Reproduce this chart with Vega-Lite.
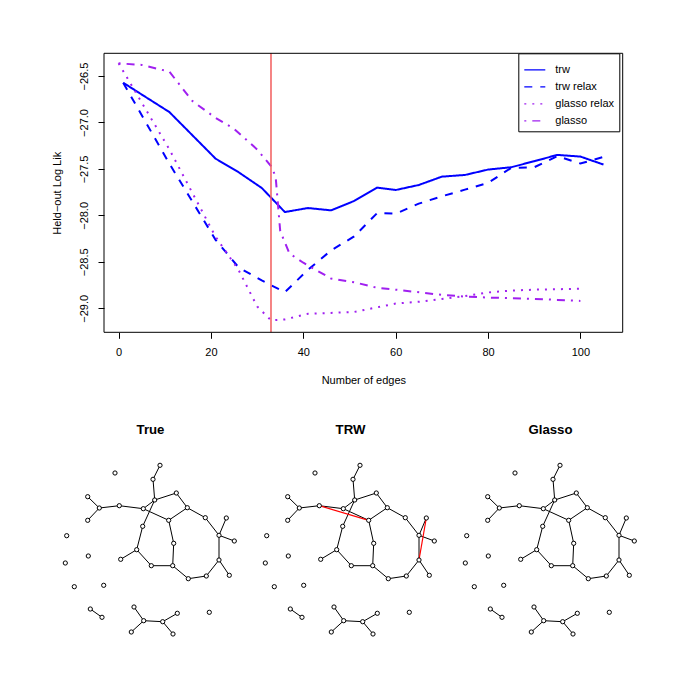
{
  "$schema": "https://vega.github.io/schema/vega-lite/v6.json",
  "width": 700,
  "height": 700,
  "autosize": "none",
  "padding": 0,
  "background": "white",
  "config": {
    "font": "Liberation Sans",
    "view": {"stroke": null},
    "axis": {"grid": false, "labelColor": "black", "titleColor": "black", "tickColor": "black", "labelFontSize": 11, "titleFontSize": 11, "titleFontWeight": "normal"}
  },
  "datasets": {
    "lines": [
      {"method": "trw", "edges": 1, "ll": -26.572},
      {"method": "trw", "edges": 11, "ll": -26.888},
      {"method": "trw", "edges": 21, "ll": -27.389},
      {"method": "trw", "edges": 26, "ll": -27.536},
      {"method": "trw", "edges": 31, "ll": -27.705},
      {"method": "trw", "edges": 36, "ll": -27.964},
      {"method": "trw", "edges": 41, "ll": -27.921},
      {"method": "trw", "edges": 46, "ll": -27.946},
      {"method": "trw", "edges": 51, "ll": -27.845},
      {"method": "trw", "edges": 56, "ll": -27.701},
      {"method": "trw", "edges": 60, "ll": -27.727},
      {"method": "trw", "edges": 65, "ll": -27.673},
      {"method": "trw", "edges": 70, "ll": -27.583},
      {"method": "trw", "edges": 75, "ll": -27.565},
      {"method": "trw", "edges": 80, "ll": -27.507},
      {"method": "trw", "edges": 85, "ll": -27.482},
      {"method": "trw", "edges": 90, "ll": -27.417},
      {"method": "trw", "edges": 95, "ll": -27.349},
      {"method": "trw", "edges": 100, "ll": -27.367},
      {"method": "trw", "edges": 105, "ll": -27.453},
      {"method": "trw relax", "edges": 1, "ll": -26.572},
      {"method": "trw relax", "edges": 11, "ll": -27.443},
      {"method": "trw relax", "edges": 21, "ll": -28.263},
      {"method": "trw relax", "edges": 26, "ll": -28.561},
      {"method": "trw relax", "edges": 31, "ll": -28.701},
      {"method": "trw relax", "edges": 36, "ll": -28.827},
      {"method": "trw relax", "edges": 41, "ll": -28.586},
      {"method": "trw relax", "edges": 46, "ll": -28.378},
      {"method": "trw relax", "edges": 51, "ll": -28.227},
      {"method": "trw relax", "edges": 56, "ll": -27.975},
      {"method": "trw relax", "edges": 60, "ll": -27.982},
      {"method": "trw relax", "edges": 65, "ll": -27.874},
      {"method": "trw relax", "edges": 70, "ll": -27.795},
      {"method": "trw relax", "edges": 75, "ll": -27.723},
      {"method": "trw relax", "edges": 80, "ll": -27.651},
      {"method": "trw relax", "edges": 85, "ll": -27.489},
      {"method": "trw relax", "edges": 90, "ll": -27.482},
      {"method": "trw relax", "edges": 95, "ll": -27.363},
      {"method": "trw relax", "edges": 100, "ll": -27.442},
      {"method": "trw relax", "edges": 105, "ll": -27.37},
      {"method": "glasso relax", "edges": 0, "ll": -26.363},
      {"method": "glasso relax", "edges": 11, "ll": -27.29},
      {"method": "glasso relax", "edges": 21, "ll": -28.23},
      {"method": "glasso relax", "edges": 26, "ll": -28.59},
      {"method": "glasso relax", "edges": 30, "ll": -28.98},
      {"method": "glasso relax", "edges": 33, "ll": -29.13},
      {"method": "glasso relax", "edges": 36, "ll": -29.12},
      {"method": "glasso relax", "edges": 41, "ll": -29.06},
      {"method": "glasso relax", "edges": 46, "ll": -29.05},
      {"method": "glasso relax", "edges": 51, "ll": -29.04},
      {"method": "glasso relax", "edges": 56, "ll": -28.99},
      {"method": "glasso relax", "edges": 60, "ll": -28.95},
      {"method": "glasso relax", "edges": 65, "ll": -28.93},
      {"method": "glasso relax", "edges": 70, "ll": -28.9},
      {"method": "glasso relax", "edges": 75, "ll": -28.87},
      {"method": "glasso relax", "edges": 80, "ll": -28.83},
      {"method": "glasso relax", "edges": 85, "ll": -28.81},
      {"method": "glasso relax", "edges": 90, "ll": -28.8},
      {"method": "glasso relax", "edges": 95, "ll": -28.795},
      {"method": "glasso relax", "edges": 100, "ll": -28.79},
      {"method": "glasso", "edges": 0, "ll": -26.363},
      {"method": "glasso", "edges": 5, "ll": -26.38},
      {"method": "glasso", "edges": 11, "ll": -26.453},
      {"method": "glasso", "edges": 16, "ll": -26.77},
      {"method": "glasso", "edges": 21, "ll": -26.95},
      {"method": "glasso", "edges": 25, "ll": -27.068},
      {"method": "glasso", "edges": 30, "ll": -27.29},
      {"method": "glasso", "edges": 33, "ll": -27.47},
      {"method": "glasso", "edges": 34, "ll": -27.58},
      {"method": "glasso", "edges": 35, "ll": -28.17},
      {"method": "glasso", "edges": 37, "ll": -28.41},
      {"method": "glasso", "edges": 40, "ll": -28.51},
      {"method": "glasso", "edges": 46, "ll": -28.68},
      {"method": "glasso", "edges": 51, "ll": -28.72},
      {"method": "glasso", "edges": 56, "ll": -28.78},
      {"method": "glasso", "edges": 60, "ll": -28.8},
      {"method": "glasso", "edges": 70, "ll": -28.856},
      {"method": "glasso", "edges": 75, "ll": -28.874},
      {"method": "glasso", "edges": 80, "ll": -28.885},
      {"method": "glasso", "edges": 85, "ll": -28.892},
      {"method": "glasso", "edges": 90, "ll": -28.899},
      {"method": "glasso", "edges": 95, "ll": -28.91},
      {"method": "glasso", "edges": 100, "ll": -28.921}
    ],
    "nodes": [
      {"id": 1, "gx": 65, "gy": 23},
      {"id": 2, "gx": 110, "gy": 15.3},
      {"id": 3, "gx": 103, "gy": 29.3},
      {"id": 4, "gx": 104.7, "gy": 50},
      {"id": 5, "gx": 126.3, "gy": 43},
      {"id": 6, "gx": 93.3, "gy": 58.7},
      {"id": 7, "gx": 69.3, "gy": 55.7},
      {"id": 8, "gx": 49.3, "gy": 58},
      {"id": 9, "gx": 37.7, "gy": 46.7},
      {"id": 10, "gx": 37.7, "gy": 70.3},
      {"id": 11, "gx": 118.7, "gy": 70.3},
      {"id": 12, "gx": 137.3, "gy": 57.7},
      {"id": 13, "gx": 155.3, "gy": 67.7},
      {"id": 14, "gx": 169, "gy": 85.3},
      {"id": 15, "gx": 176.3, "gy": 68},
      {"id": 16, "gx": 184.3, "gy": 91},
      {"id": 17, "gx": 169, "gy": 110},
      {"id": 18, "gx": 179.3, "gy": 125.3},
      {"id": 19, "gx": 156.3, "gy": 126},
      {"id": 20, "gx": 138.3, "gy": 128.7},
      {"id": 21, "gx": 122.7, "gy": 115.7},
      {"id": 22, "gx": 123.7, "gy": 93.3},
      {"id": 23, "gx": 101.3, "gy": 115.7},
      {"id": 24, "gx": 86.7, "gy": 99.7},
      {"id": 25, "gx": 70.7, "gy": 109.3},
      {"id": 26, "gx": 92.7, "gy": 76.3},
      {"id": 27, "gx": 16.7, "gy": 85.7},
      {"id": 28, "gx": 15.3, "gy": 113},
      {"id": 29, "gx": 38.3, "gy": 106},
      {"id": 30, "gx": 24.3, "gy": 136.7},
      {"id": 31, "gx": 53.7, "gy": 135.3},
      {"id": 32, "gx": 40.3, "gy": 159},
      {"id": 33, "gx": 52, "gy": 167.3},
      {"id": 34, "gx": 84, "gy": 157},
      {"id": 35, "gx": 93.7, "gy": 170.7},
      {"id": 36, "gx": 81.3, "gy": 182},
      {"id": 37, "gx": 112.7, "gy": 171.7},
      {"id": 38, "gx": 127.3, "gy": 163.3},
      {"id": 39, "gx": 123, "gy": 184},
      {"id": 40, "gx": 159.3, "gy": 162.3}
    ],
    "edges": [
      {"a": 2, "b": 3, "type": "true"},
      {"a": 3, "b": 4, "type": "true"},
      {"a": 4, "b": 5, "type": "true"},
      {"a": 4, "b": 6, "type": "true"},
      {"a": 4, "b": 26, "type": "true"},
      {"a": 6, "b": 7, "type": "true"},
      {"a": 6, "b": 11, "type": "true"},
      {"a": 7, "b": 8, "type": "true"},
      {"a": 8, "b": 9, "type": "true"},
      {"a": 8, "b": 10, "type": "true"},
      {"a": 5, "b": 12, "type": "true"},
      {"a": 11, "b": 12, "type": "true"},
      {"a": 12, "b": 13, "type": "true"},
      {"a": 13, "b": 14, "type": "true"},
      {"a": 14, "b": 15, "type": "true"},
      {"a": 14, "b": 16, "type": "true"},
      {"a": 14, "b": 17, "type": "true"},
      {"a": 17, "b": 18, "type": "true"},
      {"a": 17, "b": 19, "type": "true"},
      {"a": 19, "b": 20, "type": "true"},
      {"a": 20, "b": 21, "type": "true"},
      {"a": 21, "b": 22, "type": "true"},
      {"a": 11, "b": 22, "type": "true"},
      {"a": 21, "b": 23, "type": "true"},
      {"a": 23, "b": 24, "type": "true"},
      {"a": 24, "b": 25, "type": "true"},
      {"a": 24, "b": 26, "type": "true"},
      {"a": 32, "b": 33, "type": "true"},
      {"a": 34, "b": 35, "type": "true"},
      {"a": 35, "b": 36, "type": "true"},
      {"a": 35, "b": 37, "type": "true"},
      {"a": 37, "b": 38, "type": "true"},
      {"a": 37, "b": 39, "type": "true"},
      {"a": 7, "b": 11, "type": "extra"},
      {"a": 15, "b": 17, "type": "extra"}
    ]
  },
  "layer": [
    {
      "layer": [
        {
          "data": {"name": "lines"},
          "mark": {"type": "line", "strokeWidth": 2},
          "encoding": {
            "x": {
              "field": "edges", "type": "quantitative",
              "scale": {"domain": [-3.16, 109.16], "range": [104, 622.7], "nice": false, "zero": false},
              "axis": {"orient": "bottom", "values": [0, 20, 40, 60, 80, 100], "title": "Number of edges", "offset": -367.7, "domain": false, "tickSize": 6, "labelPadding": 8, "titlePadding": 17}
            },
            "y": {
              "field": "ll", "type": "quantitative",
              "scale": {"domain": [-29.259, -26.255], "range": [332.3, 53.3], "nice": false, "zero": false},
              "axis": {"orient": "left", "values": [-29, -28.5, -28, -27.5, -27, -26.5], "format": ".1f", "title": "Held\u2212out Log Lik", "offset": -104, "domain": false, "tickSize": 6, "labelAngle": -90, "labelAlign": "center", "labelBaseline": "bottom", "labelPadding": 9, "titlePadding": 16}
            },
            "color": {
              "field": "method", "type": "nominal",
              "scale": {"domain": ["trw", "trw relax", "glasso relax", "glasso"], "range": ["#0000FF", "#0000FF", "#A020F0", "#A020F0"]},
              "legend": {"title": null, "orient": "none", "legendX": 518.3, "legendY": 53.3, "symbolType": "stroke", "symbolStrokeWidth": 1.3, "symbolSize": 441, "fillColor": "white", "strokeColor": "black", "padding": 5, "labelFontSize": 11, "labelColor": "black", "rowPadding": 0, "labelOffset": 9}
            },
            "strokeDash": {
              "field": "method", "type": "nominal",
              "scale": {"domain": ["trw", "trw relax", "glasso relax", "glasso"], "range": [[1, 0], [8, 8], [2, 6], [2, 6, 8, 6]]},
              "legend": {"title": null, "orient": "none", "legendX": 518.3, "legendY": 53.3, "symbolType": "stroke", "symbolStrokeWidth": 1.3, "symbolSize": 441, "fillColor": "white", "strokeColor": "black", "padding": 5, "labelFontSize": 11, "labelColor": "black", "rowPadding": 0, "labelOffset": 9}
            }
          }
        },
        {
          "data": {"values": [{"edges": 33}]},
          "mark": {"type": "rule", "color": "#F25C5C", "strokeWidth": 1.5},
          "encoding": {
            "x": {"field": "edges", "type": "quantitative"},
            "y": {"datum": -29.259},
            "y2": {"datum": -26.255}
          }
        },
        {
          "data": {"values": [{}]},
          "mark": {"type": "rect", "filled": false, "stroke": "black", "strokeWidth": 1},
          "encoding": {
            "x": {"datum": -3.16},
            "x2": {"datum": 109.16},
            "y": {"datum": -29.259},
            "y2": {"datum": -26.255}
          }
        }
      ]
    },
    {
      "layer": [
        {
          "data": {"name": "edges"},
          "transform": [
            {"filter": "datum.type == 'true'"},
            {"lookup": "a", "from": {"data": {"name": "nodes"}, "key": "id", "fields": ["gx", "gy"]}, "as": ["x1", "y1"]},
            {"lookup": "b", "from": {"data": {"name": "nodes"}, "key": "id", "fields": ["gx", "gy"]}, "as": ["x2", "y2"]}
          ],
          "mark": {"type": "rule", "color": "black", "strokeWidth": 1},
          "encoding": {
            "x": {"field": "x1", "type": "quantitative", "scale": {"domain": [0, 200], "range": [50, 250], "nice": false, "zero": false},
                  "axis": {"orient": "top", "title": "True", "offset": -436, "domain": false, "ticks": false, "labels": false, "titlePadding": 0, "titleFontSize": 13.2, "titleFontWeight": "bold"}},
            "y": {"field": "y1", "type": "quantitative", "scale": {"domain": [0, 200], "range": [450, 650], "nice": false, "zero": false}, "axis": null},
            "x2": {"field": "x2"},
            "y2": {"field": "y2"}
          }
        },
        {
          "data": {"name": "nodes"},
          "mark": {"type": "point", "shape": "circle", "filled": true, "fill": "white", "stroke": "black", "strokeWidth": 1, "size": 18, "opacity": 1},
          "encoding": {
            "x": {"field": "gx", "type": "quantitative"},
            "y": {"field": "gy", "type": "quantitative"}
          }
        }
      ]
    },
    {
      "layer": [
        {
          "data": {"name": "edges"},
          "transform": [
            {"filter": "datum.type == 'true'"},
            {"lookup": "a", "from": {"data": {"name": "nodes"}, "key": "id", "fields": ["gx", "gy"]}, "as": ["x1", "y1"]},
            {"lookup": "b", "from": {"data": {"name": "nodes"}, "key": "id", "fields": ["gx", "gy"]}, "as": ["x2", "y2"]}
          ],
          "mark": {"type": "rule", "color": "black", "strokeWidth": 1},
          "encoding": {
            "x": {"field": "x1", "type": "quantitative", "scale": {"domain": [0, 200], "range": [250, 450], "nice": false, "zero": false},
                  "axis": {"orient": "top", "title": "TRW", "offset": -436, "domain": false, "ticks": false, "labels": false, "titlePadding": 0, "titleFontSize": 13.2, "titleFontWeight": "bold"}},
            "y": {"field": "y1", "type": "quantitative", "scale": {"domain": [0, 200], "range": [450, 650], "nice": false, "zero": false}, "axis": null},
            "x2": {"field": "x2"},
            "y2": {"field": "y2"}
          }
        },
        {
          "data": {"name": "edges"},
          "transform": [
            {"filter": "datum.type == 'extra'"},
            {"lookup": "a", "from": {"data": {"name": "nodes"}, "key": "id", "fields": ["gx", "gy"]}, "as": ["x1", "y1"]},
            {"lookup": "b", "from": {"data": {"name": "nodes"}, "key": "id", "fields": ["gx", "gy"]}, "as": ["x2", "y2"]}
          ],
          "mark": {"type": "rule", "color": "#FF0000", "strokeWidth": 1.2},
          "encoding": {
            "x": {"field": "x1", "type": "quantitative"},
            "y": {"field": "y1", "type": "quantitative"},
            "x2": {"field": "x2"},
            "y2": {"field": "y2"}
          }
        },
        {
          "data": {"name": "nodes"},
          "mark": {"type": "point", "shape": "circle", "filled": true, "fill": "white", "stroke": "black", "strokeWidth": 1, "size": 18, "opacity": 1},
          "encoding": {
            "x": {"field": "gx", "type": "quantitative"},
            "y": {"field": "gy", "type": "quantitative"}
          }
        }
      ]
    },
    {
      "layer": [
        {
          "data": {"name": "edges"},
          "transform": [
            {"filter": "datum.type == 'true'"},
            {"lookup": "a", "from": {"data": {"name": "nodes"}, "key": "id", "fields": ["gx", "gy"]}, "as": ["x1", "y1"]},
            {"lookup": "b", "from": {"data": {"name": "nodes"}, "key": "id", "fields": ["gx", "gy"]}, "as": ["x2", "y2"]}
          ],
          "mark": {"type": "rule", "color": "black", "strokeWidth": 1},
          "encoding": {
            "x": {"field": "x1", "type": "quantitative", "scale": {"domain": [0, 200], "range": [450, 650], "nice": false, "zero": false},
                  "axis": {"orient": "top", "title": "Glasso", "offset": -436, "domain": false, "ticks": false, "labels": false, "titlePadding": 0, "titleFontSize": 13.2, "titleFontWeight": "bold"}},
            "y": {"field": "y1", "type": "quantitative", "scale": {"domain": [0, 200], "range": [450, 650], "nice": false, "zero": false}, "axis": null},
            "x2": {"field": "x2"},
            "y2": {"field": "y2"}
          }
        },
        {
          "data": {"name": "nodes"},
          "mark": {"type": "point", "shape": "circle", "filled": true, "fill": "white", "stroke": "black", "strokeWidth": 1, "size": 18, "opacity": 1},
          "encoding": {
            "x": {"field": "gx", "type": "quantitative"},
            "y": {"field": "gy", "type": "quantitative"}
          }
        }
      ]
    }
  ],
  "resolve": {
    "scale": {"x": "independent", "y": "independent", "color": "independent", "strokeDash": "independent"},
    "axis": {"x": "independent", "y": "independent"}
  }
}
